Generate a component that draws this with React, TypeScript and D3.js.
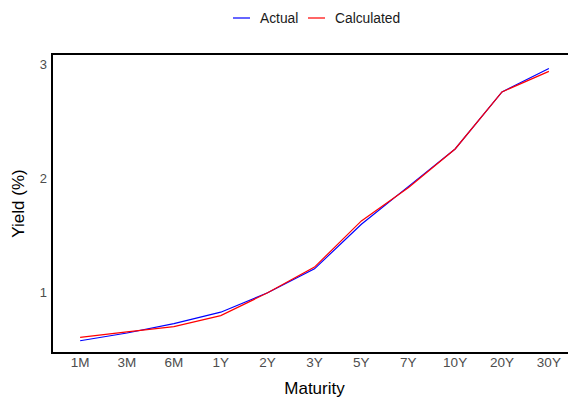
import React from 'react';
import * as d3 from 'd3';

const maturities = ['1M', '3M', '6M', '1Y', '2Y', '3Y', '5Y', '7Y', '10Y', '20Y', '30Y'];
const actual = [0.58, 0.648, 0.73, 0.83, 1.0, 1.21, 1.6, 1.93, 2.26, 2.76, 2.965];
const calculated = [0.61, 0.657, 0.703, 0.8, 1.0, 1.225, 1.63, 1.92, 2.26, 2.76, 2.94];
const yTicks = [1, 2, 3];

const W = 568;
const H = 399;
const panel = { left: 52, right: 577, top: 54, bottom: 353 };

const App = () => {
  const x = d3
    .scalePoint<string>()
    .domain(maturities)
    .range([panel.left, panel.right])
    .padding(0.6);

  const y = d3.scaleLinear().domain([0.4726, 3.092]).range([panel.bottom, panel.top]);

  const line = d3
    .line<number>()
    .x((_, i) => x(maturities[i]) as number)
    .y(d => y(d));

  const font = 'Liberation Sans, Arial, sans-serif';

  return (
    <svg
      width={W}
      height={H}
      style={{ position: 'absolute', left: 0, top: 0, fontFamily: font }}
    >
      <rect width={W} height={H} fill="#fff" />

      {/* legend */}
      <g>
        <line x1={233} x2={250} y1={18} y2={18} stroke="blue" strokeWidth={1.2} />
        <text x={260} y={23} fontSize={13.8} fill="#1a1a1a">Actual</text>
        <line x1={308} x2={325} y1={18} y2={18} stroke="red" strokeWidth={1.2} />
        <text x={335} y={23} fontSize={13.8} fill="#1a1a1a">Calculated</text>
      </g>

      {/* series */}
      <path d={line(actual) || ''} fill="none" stroke="blue" strokeWidth={1.2} />
      <path d={line(calculated) || ''} fill="none" stroke="red" strokeWidth={1.2} />

      {/* panel lines */}
      <line x1={panel.left} x2={panel.right} y1={panel.top} y2={panel.top} stroke="#000" strokeWidth={2} />
      <line x1={panel.left} x2={panel.right} y1={panel.bottom} y2={panel.bottom} stroke="#000" strokeWidth={2} />
      <line x1={panel.left} x2={panel.left} y1={panel.top - 1} y2={panel.bottom + 1} stroke="#000" strokeWidth={2} />

      {/* y axis */}
      {yTicks.map(t => (
        <text key={t} x={47} y={y(t) + 4.7} textAnchor="end" fontSize={13} fill="#4d4d4d">
          {t}
        </text>
      ))}
      <text
        transform={`translate(24,${(panel.top + panel.bottom) / 2}) rotate(-90)`}
        textAnchor="middle"
        fontSize={17}
        fill="#000"
      >
        Yield (%)
      </text>

      {/* x axis */}
      {maturities.map(m => (
        <text key={m} x={x(m)} y={367} textAnchor="middle" fontSize={13.5} fill="#4d4d4d">
          {m}
        </text>
      ))}
      <text x={(panel.left + panel.right) / 2} y={394} textAnchor="middle" fontSize={17} fill="#000">
        Maturity
      </text>
    </svg>
  );
};

export default App;
